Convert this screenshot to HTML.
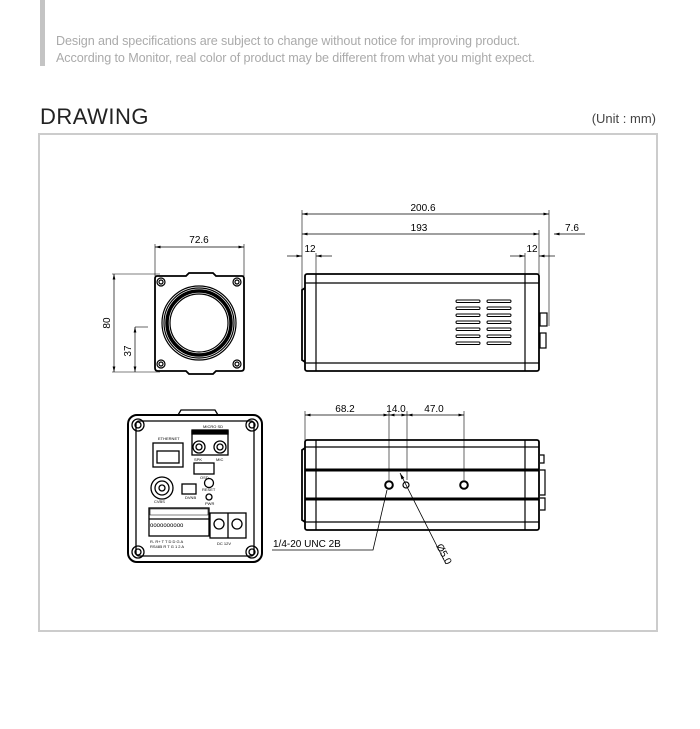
<!DOCTYPE html>
<html><head><meta charset="utf-8"><style>
body{margin:0;background:#fff;width:700px;height:729px;overflow:hidden;position:relative;font-family:"Liberation Sans",sans-serif}
.bar{position:absolute;left:40px;top:0;width:5px;height:66px;background:#c4c4c4}
.note{position:absolute;left:56px;top:33px;font-size:12.6px;line-height:17px;color:#aaa;letter-spacing:-0.1px}
.h{position:absolute;left:40px;top:104px;font-size:22px;color:#222;letter-spacing:0.5px}
.u{position:absolute;right:44px;top:111px;font-size:13px;color:#444}
.box{position:absolute;left:38px;top:133px;width:616px;height:495px;border:2px solid #ccc}
svg{position:absolute;left:0;top:0}
</style></head><body>
<div class="bar"></div>
<div class="note">Design and specifications are subject to change without notice for improving product.<br>According to Monitor, real color of product may be different from what you might expect.</div>
<div class="h">DRAWING</div>
<div class="u">(Unit : mm)</div>
<div class="box"></div>
<svg width="700" height="729" viewBox="0 0 700 729" font-family="Liberation Sans, sans-serif" font-size="10" fill="none" stroke="#000">
<defs><marker id="a" markerWidth="8" markerHeight="6" refX="8" refY="3" orient="auto-start-reverse"><path d="M0,1 L8,3 L0,5z" fill="#000" stroke="none"/></marker></defs>
<!-- front view -->
<g stroke-width="1.2">
<path d="M157,276 H186 L189,273 H213 L216,276 H242 Q244,276 244,279 V368 Q244,371 241,371 H216 L213,374 H189 L186,371 H158 Q155,371 155,368 V279 Q155,276 157,276z" stroke-width="1.8"/>
<circle cx="161" cy="282" r="4"/><circle cx="161" cy="282" r="2"/>
<circle cx="237" cy="282" r="4"/><circle cx="237" cy="282" r="2"/>
<circle cx="161" cy="364" r="4"/><circle cx="161" cy="364" r="2"/>
<circle cx="237" cy="364" r="4"/><circle cx="237" cy="364" r="2"/>
<circle cx="199" cy="323" r="37"/><circle cx="199" cy="323" r="35"/><circle cx="199" cy="323" r="32" stroke-width="3.5"/><circle cx="199" cy="323" r="29"/>
<line x1="155" y1="244" x2="155" y2="276" stroke-width=".6"/><line x1="244" y1="244" x2="244" y2="276" stroke-width=".6"/>
<line x1="155" y1="247" x2="244" y2="247" stroke-width=".7" marker-start="url(#a)" marker-end="url(#a)"/>
<line x1="112" y1="274" x2="160" y2="274" stroke-width=".6"/><line x1="112" y1="372" x2="160" y2="372" stroke-width=".6"/>
<line x1="114" y1="274" x2="114" y2="372" stroke-width=".7" marker-start="url(#a)" marker-end="url(#a)"/>
<line x1="135" y1="327" x2="135" y2="372" stroke-width=".7" marker-start="url(#a)" marker-end="url(#a)"/>
<line x1="135" y1="327" x2="148" y2="327" stroke-width=".6"/>
</g>
<g fill="#000" stroke="none">
<text x="199" y="243" text-anchor="middle">72.6</text>
<text transform="translate(110,323) rotate(-90)" text-anchor="middle">80</text>
<text transform="translate(131,351) rotate(-90)" text-anchor="middle">37</text>
</g>
<!-- side view -->
<g stroke-width="1.2">
<rect x="305" y="274" width="234" height="97" rx="2" stroke-width="1.8"/>
<line x1="316" y1="274" x2="316" y2="371"/><line x1="525" y1="274" x2="525" y2="371"/>
<line x1="305" y1="283" x2="539" y2="283"/><line x1="305" y1="363" x2="539" y2="363"/>
<path d="M305,288 L302,290 V360 L305,362" stroke-width="1.8"/>
<rect x="540" y="313" width="7" height="13"/><rect x="540" y="333" width="6" height="15"/>
<g stroke-width="1">
<rect x="456" y="300" width="24" height="2.5" rx="1.2"/><rect x="487" y="300" width="24" height="2.5" rx="1.2"/>
<rect x="456" y="307" width="24" height="2.5" rx="1.2"/><rect x="487" y="307" width="24" height="2.5" rx="1.2"/>
<rect x="456" y="314" width="24" height="2.5" rx="1.2"/><rect x="487" y="314" width="24" height="2.5" rx="1.2"/>
<rect x="456" y="321" width="24" height="2.5" rx="1.2"/><rect x="487" y="321" width="24" height="2.5" rx="1.2"/>
<rect x="456" y="328" width="24" height="2.5" rx="1.2"/><rect x="487" y="328" width="24" height="2.5" rx="1.2"/>
<rect x="456" y="335" width="24" height="2.5" rx="1.2"/><rect x="487" y="335" width="24" height="2.5" rx="1.2"/>
<rect x="456" y="342" width="24" height="2.5" rx="1.2"/><rect x="487" y="342" width="24" height="2.5" rx="1.2"/>
</g>
<g stroke-width=".6">
<line x1="302" y1="210" x2="302" y2="290"/><line x1="316" y1="253" x2="316" y2="274"/>
<line x1="525" y1="253" x2="525" y2="274"/><line x1="539" y1="230" x2="539" y2="274"/>
<line x1="549" y1="210" x2="549" y2="326"/>
</g>
<g stroke-width=".7">
<line x1="302" y1="214" x2="549" y2="214" marker-start="url(#a)" marker-end="url(#a)"/>
<line x1="302" y1="234" x2="539" y2="234" marker-start="url(#a)" marker-end="url(#a)"/>
<line x1="554" y1="234" x2="585" y2="234" marker-start="url(#a)"/>
<line x1="287" y1="256" x2="302" y2="256" marker-end="url(#a)"/><line x1="316" y1="256" x2="332" y2="256" marker-start="url(#a)"/>
<line x1="510" y1="256" x2="525" y2="256" marker-end="url(#a)"/><line x1="539" y1="256" x2="555" y2="256" marker-start="url(#a)"/>
</g>
</g>
<g fill="#000" stroke="none">
<text x="423" y="211" text-anchor="middle">200.6</text>
<text x="419" y="231" text-anchor="middle">193</text>
<text x="572" y="231" text-anchor="middle">7.6</text>
<text x="310" y="252" text-anchor="middle">12</text>
<text x="532" y="252" text-anchor="middle">12</text>
</g>
<!-- bottom view -->
<g stroke-width="1.2">
<rect x="305" y="440" width="234" height="90" rx="2" stroke-width="1.8"/>
<line x1="316" y1="440" x2="316" y2="530"/><line x1="525" y1="440" x2="525" y2="530"/>
<line x1="305" y1="447" x2="539" y2="447"/><line x1="305" y1="522" x2="539" y2="522"/>
<line x1="305" y1="470" x2="539" y2="470" stroke-width="3"/><line x1="305" y1="499" x2="539" y2="499" stroke-width="3"/>
<path d="M305,448 L302,450 V520 L305,522" stroke-width="1.8"/>
<path d="M540,455 h4 v8 h-4 M540,470 h5 v25 h-5 M540,498 h5 v12 h-5"/>
<circle cx="389" cy="485" r="3.8" stroke-width="2"/><circle cx="406" cy="485" r="3"/><circle cx="464" cy="485" r="3.8" stroke-width="2"/>
<g stroke-width=".6">
<line x1="305" y1="411" x2="305" y2="440"/><line x1="389" y1="411" x2="389" y2="480"/>
<line x1="407" y1="411" x2="407" y2="480"/><line x1="464" y1="411" x2="464" y2="480"/>
</g>
<g stroke-width=".7">
<line x1="305" y1="415" x2="389" y2="415" marker-start="url(#a)" marker-end="url(#a)"/>
<line x1="389" y1="415" x2="407" y2="415" marker-start="url(#a)" marker-end="url(#a)"/>
<line x1="407" y1="415" x2="464" y2="415" marker-start="url(#a)" marker-end="url(#a)"/>
<polyline points="387,490 373,550 272,550" stroke-width=".8"/>
<line x1="446" y1="564" x2="400" y2="473" stroke-width=".8" marker-end="url(#a)"/>
</g>
</g>
<g fill="#000" stroke="none">
<text x="345" y="412" text-anchor="middle">68.2</text>
<text x="396" y="412" text-anchor="middle">14.0</text>
<text x="434" y="412" text-anchor="middle">47.0</text>
<text x="273" y="547">1/4-20 UNC 2B</text>
<text transform="translate(436,546) rotate(62)">Ø5.0</text>
</g>
<!-- back view -->
<g stroke-width="1.3">
<path d="M178,415 L181,410 H215 L218,415" />
<rect x="128" y="415" width="134" height="147" rx="9" stroke-width="2"/>
<rect x="136" y="421" width="118" height="135" rx="3"/>
<circle cx="138" cy="425" r="6"/><circle cx="138" cy="425" r="3"/>
<circle cx="252" cy="425" r="6"/><circle cx="252" cy="425" r="3"/>
<circle cx="138" cy="552" r="6"/><circle cx="138" cy="552" r="3"/>
<circle cx="252" cy="552" r="6"/><circle cx="252" cy="552" r="3"/>
<rect x="153" y="443" width="30" height="24"/><rect x="157" y="451" width="22" height="12"/>
<rect x="192" y="431" width="36" height="24"/><rect x="192" y="430" width="36" height="4" fill="#000"/>
<circle cx="199" cy="447" r="6"/><circle cx="199" cy="447" r="3"/><circle cx="220" cy="447" r="6"/><circle cx="220" cy="447" r="3"/>
<rect x="194" y="463" width="20" height="11"/>
<circle cx="162" cy="488" r="11"/><circle cx="162" cy="488" r="7"/><circle cx="162" cy="488" r="3"/>
<rect x="182" y="484" width="14" height="10"/>
<circle cx="209" cy="483" r="4.5"/><circle cx="209" cy="497" r="3"/>
<rect x="149" y="508" width="60" height="28"/>
<line x1="149" y1="519" x2="209" y2="519"/>
<rect x="210" y="513" width="36" height="25"/><line x1="228" y1="513" x2="228" y2="538"/>
<circle cx="219" cy="524" r="5"/><circle cx="237" cy="524" r="5"/>
</g>
<g fill="#000" stroke="none" font-size="4">
<text x="158" y="440">ETHERNET</text><text x="203" y="428">MICRO SD</text>
<text x="194" y="461">SPK</text><text x="216" y="461">MIC</text>
<text x="200" y="479">OSD</text><text x="185" y="499">DVNB</text>
<text x="154" y="503">CVBS</text><text x="202" y="491">RESET</text><text x="205" y="505">PWR</text>
<text x="150" y="543">R- R+ T T D D G A</text><text x="150" y="548">RS485 R T G 1 2 A</text>
<text x="217" y="545">DC 12V</text>
<path d="M150,509 h58 v6 h-58z" fill="none" stroke="#000" stroke-width=".6"/>
<text x="150" y="527" font-size="6">oooooooooo</text>
</g>
</svg>
</body></html>
